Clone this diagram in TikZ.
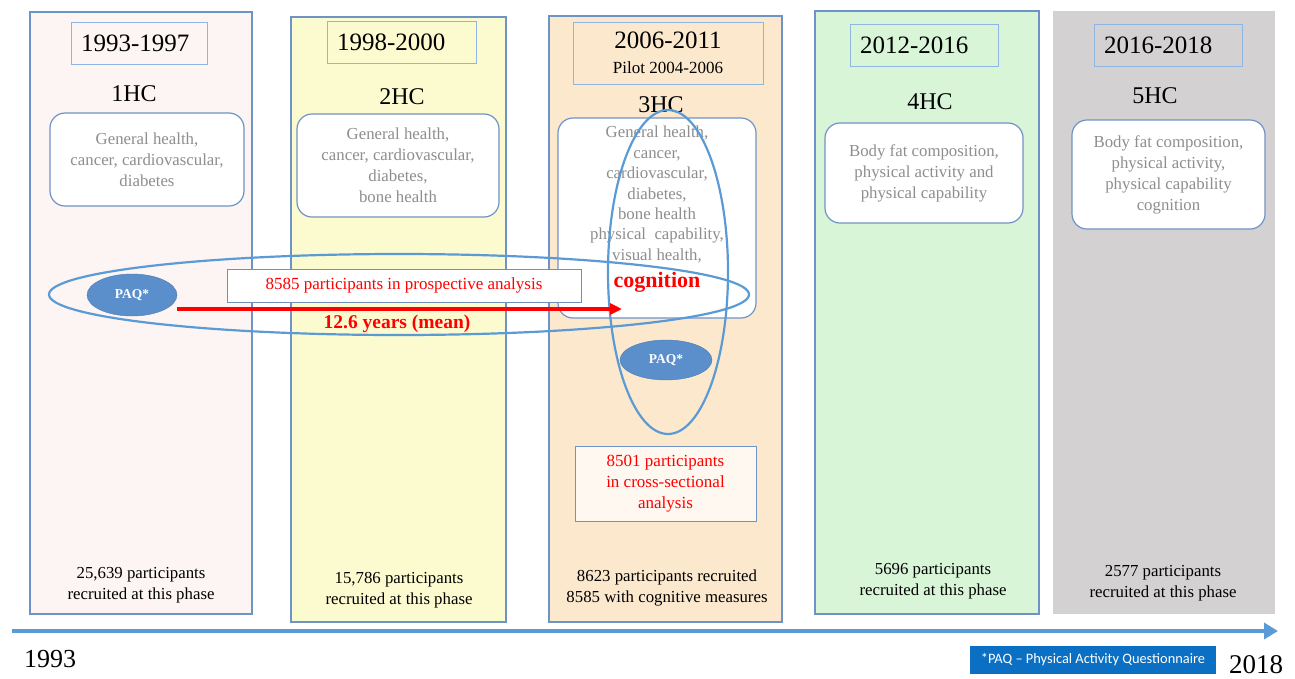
\documentclass[tikz,border=0pt]{standalone}
\usepackage{fontspec}
\setmainfont{Liberation Serif}
\newfontfamily\notefont{Carlito}
\usetikzlibrary{shapes.geometric,arrows.meta}

\definecolor{edgeblue}{HTML}{6F93C6}
\definecolor{ringblue}{HTML}{5B9BD5}
\definecolor{yearedge}{HTML}{8FB6E3}
\definecolor{paqblue}{HTML}{5B8FCC}
\definecolor{pinkfill}{HTML}{FDF4F4}
\definecolor{yellowfill}{HTML}{FCFBD0}
\definecolor{peachfill}{HTML}{FCE8CD}
\definecolor{greenfill}{HTML}{D8F5D8}
\definecolor{grayfill}{HTML}{D3D1D2}
\definecolor{topicgray}{HTML}{8E8E8E}
\definecolor{crossfill}{HTML}{FFF8F0}
\definecolor{notefill}{HTML}{0B70C3}

\begin{document}
\begin{tikzpicture}[x=1pt,y=-1pt,
  panel/.style={draw=edgeblue, line width=1.2pt, inner sep=0pt},
  yearbox/.style={draw=yearedge, line width=1pt, inner xsep=10pt, inner ysep=0pt,
    minimum height=42pt, align=left, font=\fontsize{25}{30}\selectfont},
  hclabel/.style={font=\fontsize{24}{28}\selectfont},
  topicbox/.style={draw=edgeblue, line width=1.2pt, fill=white, rounded corners=15pt,
    align=center, text=topicgray, font=\fontsize{16.8}{21}\selectfont, inner sep=0pt},
  recruit/.style={align=center, font=\fontsize{16.8}{21}\selectfont},
  ring/.style={draw=ringblue, line width=2.2pt, ellipse, inner sep=0pt},
  paq/.style={ellipse, fill=paqblue, draw=paqblue!85!black, text=white, inner sep=0pt,
    font=\bfseries\fontsize{13.5}{16}\selectfont},
  redtext/.style={text=red, align=center, font=\fontsize{17}{21}\selectfont}
]
\useasboundingbox (0,0) rectangle (1295,678);

\node[panel, fill=pinkfill, minimum width=222pt, minimum height=602pt] (hc1) at (141,313) {};
\node[panel, fill=yellowfill, minimum width=215pt, minimum height=605pt] (hc2) at (398.5,319.5) {};
\node[panel, fill=peachfill, minimum width=233pt, minimum height=606pt] (hc3) at (665.5,319) {};
\node[panel, fill=greenfill, minimum width=224pt, minimum height=603pt] (hc4) at (927,312.5) {};
\node[fill=grayfill, inner sep=0pt, minimum width=222pt, minimum height=603pt] (hc5) at (1164,312.5) {};

\node[yearbox, text width=116pt] (year1) at (139,43) {1993-1997};
\node[yearbox, text width=129pt] (year2) at (401.5,42.5) {1998-2000};
\node[yearbox, align=center, inner xsep=0pt, minimum width=190pt, minimum height=62pt] (year3) at (668,53)
  {2006-2011\\[-5pt] {\fontsize{17}{20}\selectfont Pilot 2004-2006}};
\node[yearbox, text width=128pt] (year4) at (924,45) {2012-2016};
\node[yearbox, text width=128pt] (year5) at (1168,45) {2016-2018};

\node[hclabel] (lab1) at (134,94) {1HC};
\node[hclabel] (lab2) at (402,97) {2HC};
\node[hclabel] (lab3) at (661,105) {3HC};
\node[hclabel] (lab4) at (930,102) {4HC};
\node[hclabel] (lab5) at (1155,96) {5HC};

\node[topicbox, minimum width=194pt, minimum height=93pt] (topic1) at (147,159.5)
  {General health,\\cancer, cardiovascular,\\diabetes};
\node[topicbox, minimum width=202pt, minimum height=103pt] (topic2) at (398,165.5)
  {General health,\\cancer, cardiovascular,\\diabetes,\\bone health};
\node[topicbox, minimum width=198pt, minimum height=200pt] (topic3) at (657,218) {};
\node[text=topicgray, align=center, inner sep=0pt, anchor=north,
  font=\fontsize{16.8}{20.4}\selectfont] (topic3txt) at (657,126)
  {General health,\\cancer,\\cardiovascular,\\diabetes,\\bone health\\physical\ \ capability,\\visual health,};
\node[text=red, font=\bfseries\fontsize{22}{26}\selectfont] (cog) at (657,282) {cognition};
\node[topicbox, minimum width=198pt, minimum height=100pt] (topic4) at (924,173)
  {Body fat composition,\\physical activity and\\physical capability};
\node[topicbox, minimum width=193pt, minimum height=109pt] (topic5) at (1168.5,174.5)
  {Body fat composition,\\physical activity,\\physical capability\\cognition};

\node[recruit] (rec1) at (141,585) {25,639 participants\\recruited at this phase};
\node[recruit] (rec2) at (399,590) {15,786 participants\\recruited at this phase};
\node[recruit] (rec3) at (667,588) {8623 participants recruited\\8585 with cognitive measures};
\node[recruit] (rec4) at (933,581) {5696 participants\\recruited at this phase};
\node[recruit] (rec5) at (1163,583) {2577 participants\\recruited at this phase};

\node[draw=edgeblue, line width=1pt, fill=crossfill, redtext, minimum width=181pt,
  minimum height=75pt, inner sep=0pt] (cross) at (665.5,483.5)
  {8501 participants\\in cross-sectional\\analysis};

\node[paq, minimum width=90pt, minimum height=42pt] (paqA) at (132,295) {PAQ*};
\node[paq, minimum width=92pt, minimum height=40pt] (paqB) at (666,360) {PAQ*};

\node[ring, minimum width=700pt, minimum height=81pt] (longring) at (399,294.5) {};
\node[ring, minimum width=120pt, minimum height=324pt] (crossring) at (668,272) {};

\node[draw=edgeblue!80!gray, line width=1pt, fill=white, redtext, minimum width=354pt,
  minimum height=33pt, inner sep=0pt] (prosp) at (404,285.5)
  {8585 participants in prospective analysis};

\coordinate (arrowend) at (622,309);
\draw[red, line width=3.2pt, -{Triangle[length=12pt,width=11pt]}] ([yshift=-14pt]paqA.east) -- (arrowend);
\node[text=red, font=\bfseries\fontsize{19.5}{23}\selectfont] (years) at (397,324) {12.6 years (mean)};

\coordinate (tstart) at (12,631);
\coordinate (tend) at (1278,631);
\draw[ringblue, line width=4pt, -{Triangle[length=14pt,width=16pt]}] (tstart) -- (tend);

\node[font=\fontsize{26}{30}\selectfont] (start) at (50,659) {1993};
\node[font=\fontsize{27}{30}\selectfont] (stop) at (1256,665) {2018};
\node[fill=notefill, text=white, minimum width=246pt, minimum height=28pt, inner sep=0pt,
  font=\notefont\fontsize{14.4}{17}\selectfont] (note) at (1093,660)
  {*PAQ – Physical Activity Questionnaire};

\end{tikzpicture}
\end{document}
